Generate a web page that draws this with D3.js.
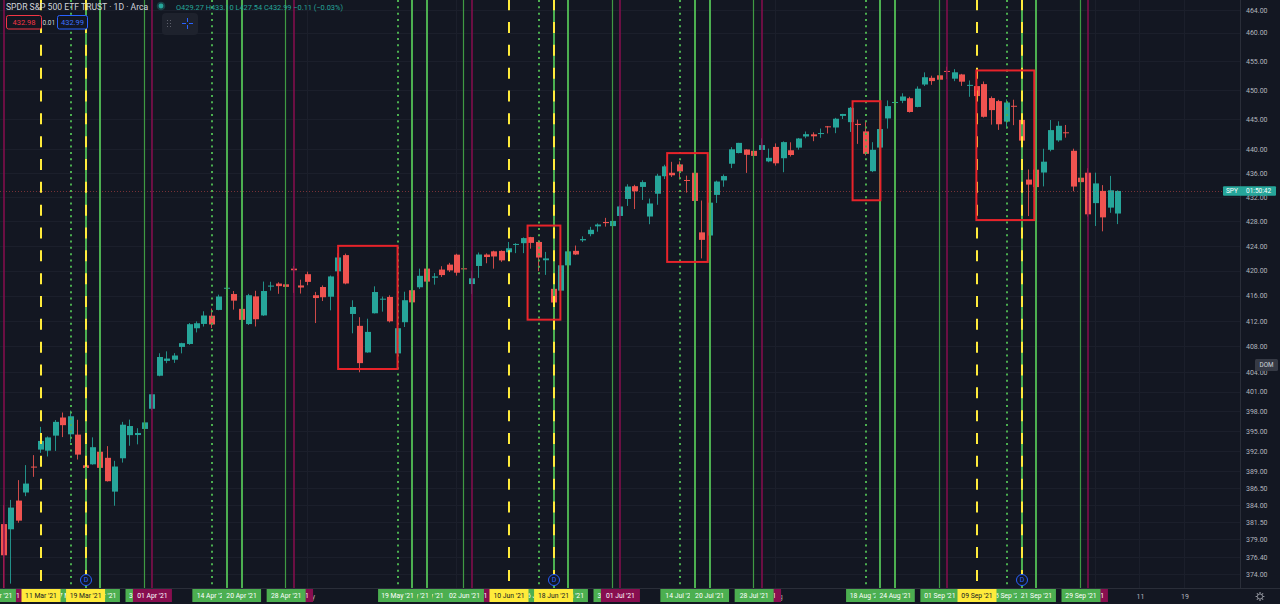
<!DOCTYPE html>
<html><head><meta charset="utf-8">
<script src="https://cdn.jsdelivr.net/npm/d3@7"></script>
<style>
html,body{margin:0;padding:0;background:#131722;overflow:hidden}
svg{display:block}
text{font-family:Roboto,"Open Sans",sans-serif}
</style></head><body>
<svg id="c" width="1280" height="604"></svg>
<script>
// ---------------- DATA ----------------
const dates = ["2021-03-03","2021-03-04","2021-03-05","2021-03-08","2021-03-09","2021-03-10","2021-03-11","2021-03-12","2021-03-15","2021-03-16","2021-03-17","2021-03-18","2021-03-19","2021-03-22","2021-03-23","2021-03-24","2021-03-25","2021-03-26","2021-03-29","2021-03-30","2021-03-31",
"2021-04-01","2021-04-05","2021-04-06","2021-04-07","2021-04-08","2021-04-09","2021-04-12","2021-04-13","2021-04-14","2021-04-15","2021-04-16","2021-04-19","2021-04-20","2021-04-21","2021-04-22","2021-04-23","2021-04-26","2021-04-27","2021-04-28","2021-04-29","2021-04-30",
"2021-05-03","2021-05-04","2021-05-05","2021-05-06","2021-05-07","2021-05-10","2021-05-11","2021-05-12","2021-05-13","2021-05-14","2021-05-17","2021-05-18","2021-05-19","2021-05-20","2021-05-21","2021-05-24","2021-05-25","2021-05-26","2021-05-27","2021-05-28",
"2021-06-01","2021-06-02","2021-06-03","2021-06-04","2021-06-07","2021-06-08","2021-06-09","2021-06-10","2021-06-11","2021-06-14","2021-06-15","2021-06-16","2021-06-17","2021-06-18","2021-06-21","2021-06-22","2021-06-23","2021-06-24","2021-06-25","2021-06-28","2021-06-29","2021-06-30",
"2021-07-01","2021-07-02","2021-07-06","2021-07-07","2021-07-08","2021-07-09","2021-07-12","2021-07-13","2021-07-14","2021-07-15","2021-07-16","2021-07-19","2021-07-20","2021-07-21","2021-07-22","2021-07-23","2021-07-26","2021-07-27","2021-07-28","2021-07-29","2021-07-30",
"2021-08-02","2021-08-03","2021-08-04","2021-08-05","2021-08-06","2021-08-09","2021-08-10","2021-08-11","2021-08-12","2021-08-13","2021-08-16","2021-08-17","2021-08-18","2021-08-19","2021-08-20","2021-08-23","2021-08-24","2021-08-25","2021-08-26","2021-08-27","2021-08-30","2021-08-31",
"2021-09-01","2021-09-02","2021-09-03","2021-09-07","2021-09-08","2021-09-09","2021-09-10","2021-09-13","2021-09-14","2021-09-15","2021-09-16","2021-09-17","2021-09-20","2021-09-21","2021-09-22","2021-09-23","2021-09-24","2021-09-27","2021-09-28","2021-09-29","2021-09-30",
"2021-10-01","2021-10-04","2021-10-05","2021-10-06"];

const open = [385.79,381.22,380.46,384.66,385.85,389.69,392.23,392.07,394.33,397.07,394.53,394.48,389.88,390.03,391.91,391.00,385.98,390.93,394.40,394.42,395.34,
398.40,403.46,405.76,405.94,407.93,408.39,410.85,411.53,412.83,413.74,417.25,416.26,413.91,411.51,415.89,412.87,417.44,417.93,417.81,420.32,417.63,
419.43,416.07,417.38,415.83,419.89,422.50,413.10,411.23,407.07,413.21,415.39,415.80,406.92,411.80,416.87,417.34,420.33,418.87,420.17,420.97,
422.57,420.37,417.85,420.75,422.59,423.11,423.18,422.96,424.20,424.43,425.42,424.63,421.67,417.09,416.80,420.85,423.19,424.89,425.90,427.17,427.88,427.21,
428.87,431.67,433.78,433.66,428.78,432.53,435.43,436.01,437.40,434.81,436.01,426.19,425.68,432.34,434.74,437.52,439.31,439.91,439.68,439.82,437.91,
440.34,438.44,439.78,440.22,442.10,442.46,442.61,443.82,443.62,445.59,444.53,444.24,442.96,436.27,440.23,445.16,447.97,448.17,448.61,447.12,450.97,452.13,
452.56,453.32,451.98,452.71,450.89,450.70,451.04,448.64,448.12,444.62,447.32,444.92,434.88,436.53,436.05,439.85,441.44,442.81,439.69,435.19,436.02,
430.98,433.00,430.24,429.27];

const high = [386.83,384.00,384.76,387.68,389.91,391.40,395.65,394.21,396.69,397.83,398.12,396.72,391.57,394.07,393.46,392.75,390.55,396.41,396.75,395.45,398.00,
400.67,406.94,407.24,406.96,408.58,411.67,411.93,413.53,413.96,416.16,417.91,416.74,415.09,416.29,416.78,418.25,418.22,418.14,419.01,420.72,418.54,
419.84,416.60,417.63,419.21,422.82,422.74,415.27,412.59,412.35,417.49,415.86,416.06,411.05,416.63,418.20,420.32,420.71,419.61,420.72,421.25,
422.72,421.23,419.99,422.92,422.78,423.21,423.26,424.63,424.43,425.37,425.46,424.87,423.02,417.83,421.06,424.00,424.05,425.55,427.09,427.65,428.56,428.78,
430.60,434.10,434.01,434.76,431.73,435.84,437.35,437.84,437.92,435.53,436.06,431.41,432.42,434.70,435.72,440.30,441.03,439.94,440.30,441.80,440.06,
440.93,441.28,441.12,441.85,442.94,442.80,443.44,443.88,445.26,445.94,447.11,444.96,444.63,441.14,443.71,448.23,448.54,449.46,448.86,450.65,453.07,452.49,
453.11,454.05,453.63,452.81,451.67,452.57,451.49,448.92,448.34,448.41,448.36,445.37,436.56,437.91,440.03,444.89,444.67,444.05,440.04,437.04,436.77,
436.03,433.96,435.49,433.10];

const low = [381.31,371.88,372.64,381.42,385.31,388.17,391.74,391.20,392.03,394.11,393.30,390.75,387.15,389.97,388.66,387.47,383.90,390.29,392.81,393.02,395.31,
398.18,403.38,405.40,405.45,406.93,408.26,410.20,411.12,410.87,413.69,415.73,413.79,410.59,411.36,411.13,412.79,416.81,416.30,416.90,416.44,416.34,
417.67,411.67,415.15,413.68,419.16,417.81,410.06,404.00,407.02,413.18,413.47,411.77,405.33,411.05,414.45,417.08,417.62,417.76,418.99,419.79,
419.20,419.29,416.28,418.84,421.19,420.32,421.41,421.55,422.82,422.82,423.54,419.92,419.32,414.70,415.93,420.08,422.51,424.62,425.55,426.30,427.13,427.18,
428.80,430.52,430.01,431.51,427.52,430.71,434.97,435.31,434.91,432.72,430.92,421.97,424.83,431.01,433.69,436.79,439.26,435.99,437.31,439.81,437.77,
437.21,436.10,438.73,439.88,441.80,441.31,441.88,442.62,442.66,445.07,442.87,440.85,438.92,436.12,439.71,443.44,447.42,447.77,446.16,447.06,450.71,450.92,
451.55,451.91,451.55,450.74,448.86,448.72,445.31,444.11,443.22,443.44,444.02,441.02,428.86,433.07,433.75,439.60,441.21,441.90,432.94,433.85,428.78,
427.23,426.36,429.39,427.54];

const close = [381.42,376.70,383.63,381.72,387.17,389.58,393.53,394.06,396.41,395.91,397.26,391.48,389.48,392.59,389.50,387.52,389.70,395.98,395.78,394.73,396.33,
400.61,406.36,406.12,406.59,408.52,411.49,411.64,412.86,411.45,415.87,417.26,415.21,412.17,416.07,412.27,416.74,417.61,417.52,417.40,420.06,417.30,
418.20,415.62,415.75,419.07,422.12,417.94,414.21,405.41,410.28,416.58,415.52,411.94,410.86,415.28,414.94,419.17,418.24,419.07,419.29,420.04,
419.67,420.33,418.77,422.60,422.19,422.28,421.65,423.61,424.31,425.26,424.48,422.11,421.97,414.92,420.86,423.11,422.60,425.10,426.61,427.47,427.70,428.06,
430.43,433.72,432.93,434.46,430.92,435.52,437.08,435.59,436.24,434.75,431.34,424.97,431.06,434.55,435.46,439.94,441.02,439.01,438.83,440.65,438.51,
437.59,441.15,438.98,441.76,442.49,442.13,442.68,443.78,445.11,445.92,446.97,444.04,439.18,439.86,443.36,447.26,447.97,448.91,446.26,450.25,452.23,451.56,
451.80,453.19,453.08,451.46,450.91,448.98,445.44,446.58,444.17,447.88,447.17,441.40,434.04,433.63,437.86,443.18,443.91,442.64,433.72,434.45,429.14,
434.24,428.64,433.10,432.99];

const futureDates = ["2021-10-07","2021-10-08","2021-10-11","2021-10-12","2021-10-13","2021-10-14","2021-10-15","2021-10-18","2021-10-19","2021-10-20","2021-10-21","2021-10-22","2021-10-25","2021-10-26","2021-10-27","2021-10-28"];

const yTicks = [464,460,455,450,445,440,436,432,428,424,420,416,412,408,404,401,398,395,392,389,386.5,384,381.5,379,376.4,374];

// time-axis ticks (plain)
const timeTicks = [
  {date:"2021-04-01", text:"Apr"},{date:"2021-05-03", text:"May"},{date:"2021-06-01", text:"Jun"},
  {date:"2021-07-01", text:"Jul"},{date:"2021-08-02", text:"Aug"},{date:"2021-09-01", text:"Sep"},
  {date:"2021-10-01", text:"Oct"},{date:"2021-10-11", text:"11"},{date:"2021-10-19", text:"19"}];

// indicator vertical lines (array order = drawing order of their axis labels)
const lineEvents = [
  {date:"2021-03-04", kind:"maroon"},{date:"2021-03-03", kind:"thin"},
  {date:"2021-03-31", kind:"thin"},{date:"2021-04-01", kind:"maroon"},
  {date:"2021-03-17", kind:"dotted"},{date:"2021-03-23", kind:"green"},
  {date:"2021-03-11", kind:"yellow"},{date:"2021-03-19", kind:"green"},{date:"2021-03-19", kind:"yellow"},
  {date:"2021-04-16", kind:"green"},{date:"2021-04-14", kind:"dotted"},{date:"2021-04-20", kind:"green"},
  {date:"2021-04-29", kind:"maroon"},{date:"2021-04-28", kind:"thin"},
  {date:"2021-06-03", kind:"maroon"},{date:"2021-05-25", kind:"green"},{date:"2021-05-21", kind:"green"},
  {date:"2021-05-19", kind:"dotted"},{date:"2021-06-02", kind:"thin"},
  {date:"2021-06-16", kind:"dotted"},{date:"2021-06-22", kind:"green"},{date:"2021-06-18", kind:"green"},
  {date:"2021-06-10", kind:"yellow"},{date:"2021-06-18", kind:"yellow"},
  {date:"2021-06-30", kind:"thin"},{date:"2021-07-01", kind:"maroon"},
  {date:"2021-07-16", kind:"green"},{date:"2021-07-14", kind:"dotted"},{date:"2021-07-20", kind:"green"},
  {date:"2021-07-29", kind:"maroon"},{date:"2021-07-28", kind:"thin"},
  {date:"2021-08-20", kind:"green"},{date:"2021-08-18", kind:"dotted"},{date:"2021-08-24", kind:"green"},
  {date:"2021-09-02", kind:"maroon"},{date:"2021-09-01", kind:"thin"},
  {date:"2021-09-17", kind:"green"},{date:"2021-09-17", kind:"yellow"},
  {date:"2021-09-15", kind:"dotted"},{date:"2021-09-21", kind:"green"},{date:"2021-09-09", kind:"yellow"},
  {date:"2021-09-30", kind:"maroon"},{date:"2021-09-29", kind:"thin"}];

// rectangles drawn on the chart (time anchors, optional hour fraction of a bar)
const boxes = [
  {from:"2021-05-07", to:"2021-05-19", top:424.0, bottom:404.5},
  {from:"2021-06-14T12", to:"2021-06-18T22", top:427.3, bottom:412.2},
  {from:"2021-07-12T07", to:"2021-07-19T18", top:439.3, bottom:421.4},
  {from:"2021-08-16T06", to:"2021-08-20", top:448.1, bottom:431.45},
  {from:"2021-09-08T22", to:"2021-09-20T17", top:453.4, bottom:428.2}];

const dividendDates = ["2021-03-19","2021-06-18","2021-09-17"];

const legendTitle = "SPDR S&P 500 ETF TRUST · 1D · Arca";
const lastBar = {o:"429.27", h:"433.10", l:"427.54", c:"432.99", chg:"−0.11 (−0.03%)"};
const bidAsk = {bid:"432.98", spread:"0.01", ask:"432.99"};
const lastPrice = 432.99;
const countdown = "01:50:42";
const symbol = "SPY";

// ---------------- CHART ----------------
const svg = d3.select("#c");
const PR = 1240, PB = 588;
const allDates = dates.concat(futureDates);
const idxOf = new Map(allDates.map((d,i)=>[d,i]));
function barPos(s){ const p=s.split("T"); let i=idxOf.get(p[0]); if(p[1]) i += (+p[1])/24; return i; }
const x = d3.scaleLinear().domain([idxOf.get("2021-03-11"), idxOf.get("2021-09-29")]).range([41,1081]);
const y = d3.scaleLog().domain([374,464]).range([574.1,10]);

svg.append("rect").attr("width",1280).attr("height",604).attr("fill","#131722");
const defs = svg.append("defs");
defs.append("clipPath").attr("id","clip").append("rect").attr("width",PR).attr("height",PB);
const plot = svg.append("g").attr("clip-path","url(#clip)");

// grid
plot.selectAll("line.hg").data(yTicks).join("line").attr("class","hg")
  .attr("x1",0).attr("x2",PR).attr("y1",d=>Math.round(y(d))+0.5).attr("y2",d=>Math.round(y(d))+0.5)
  .attr("stroke","#1b1f2b").attr("stroke-width",1);
plot.selectAll("line.vg").data(timeTicks).join("line").attr("class","vg")
  .attr("x1",d=>Math.round(x(idxOf.get(d.date)))-0.5).attr("x2",d=>Math.round(x(idxOf.get(d.date)))-0.5)
  .attr("y1",0).attr("y2",PB).attr("stroke","#1b1f2b");

// candles
const bars = dates.map((d,i)=>({d, o:open[i], h:high[i], l:low[i], c:close[i]}));
const colOf = b => b.c >= b.o ? "#26a69a" : "#ef5350";
const cxOf = b => Math.round(x(idxOf.get(b.d)));
plot.append("g").selectAll("rect").data(bars).join("rect")
  .attr("x",b=>cxOf(b)-1).attr("width",1)
  .attr("y",b=>y(b.h)).attr("height",b=>Math.max(1,y(b.l)-y(b.h)))
  .attr("fill",colOf).attr("opacity",0.85);
plot.append("g").selectAll("rect").data(bars).join("rect")
  .attr("x",b=>cxOf(b)-3).attr("width",6)
  .attr("y",b=>y(Math.max(b.o,b.c)))
  .attr("height",b=>Math.max(1,y(Math.min(b.o,b.c))-y(Math.max(b.o,b.c))))
  .attr("fill",colOf);

// last price line
plot.append("line").attr("x1",0).attr("x2",PR).attr("y1",Math.round(y(lastPrice))+0.5).attr("y2",Math.round(y(lastPrice))+0.5)
  .attr("stroke","#ef5350").attr("stroke-opacity",0.45).attr("stroke-dasharray","1 2");

// vertical indicator lines
const lineStyle = {
  maroon:{stroke:"#880e4f", w:1.5, dash:null, off:0},
  thin:{stroke:"#3f9a43", w:1.2, dash:null, off:-0.5},
  green:{stroke:"#4caf50", w:2, dash:null, off:0},
  dotted:{stroke:"#4caf50", w:2, dash:"2 4.33", off:0},
  yellow:{stroke:"#ffeb3b", w:2, dash:"11 11.83", off:0}
};
const order = ["maroon","thin","green","dotted","yellow"];
const linesSorted = lineEvents.slice().sort((a,b)=>order.indexOf(a.kind)-order.indexOf(b.kind));
plot.append("g").selectAll("line").data(linesSorted).join("line")
  .attr("x1",d=>Math.round(x(idxOf.get(d.date)))+lineStyle[d.kind].off)
  .attr("x2",d=>Math.round(x(idxOf.get(d.date)))+lineStyle[d.kind].off)
  .attr("y1",0).attr("y2",PB)
  .attr("stroke",d=>lineStyle[d.kind].stroke)
  .attr("stroke-width",d=>lineStyle[d.kind].w)
  .attr("stroke-dasharray",d=>lineStyle[d.kind].dash)
  .attr("stroke-dashoffset",d=>d.kind==="yellow"?0.8:0);

// boxes
plot.append("g").selectAll("rect").data(boxes).join("rect")
  .attr("x",d=>x(barPos(d.from))).attr("width",d=>x(barPos(d.to))-x(barPos(d.from)))
  .attr("y",d=>y(d.top)).attr("height",d=>y(d.bottom)-y(d.top))
  .attr("fill","none").attr("stroke","#e8232a").attr("stroke-width",2);

// dividend markers
const dv = plot.append("g").selectAll("g").data(dividendDates).join("g")
  .attr("transform",d=>`translate(${Math.round(x(idxOf.get(d)))},580)`);
dv.append("circle").attr("r",5.5).attr("fill","#131722").attr("stroke","#2962ff").attr("stroke-width",1);
dv.append("text").attr("text-anchor","middle").attr("dy","0.35em").attr("font-size",7).attr("fill","#2962ff").text("D");

// ---------- right axis ----------
svg.append("rect").attr("x",PR).attr("y",0).attr("width",1280-PR).attr("height",604).attr("fill","#131722");
svg.append("line").attr("x1",PR+0.5).attr("x2",PR+0.5).attr("y1",0).attr("y2",604).attr("stroke","#2a2e39");
const ya = svg.append("g").attr("transform",`translate(${PR},0)`)
  .call(d3.axisRight(y).tickValues(yTicks).tickFormat(d3.format(".2f")).tickSize(0).tickPadding(6));
ya.select(".domain").remove();
ya.selectAll("text").attr("fill","#b2b5be").attr("font-size",7).attr("font-family","Roboto,sans-serif");

// ---------- bottom axis ----------
svg.append("rect").attr("x",0).attr("y",PB).attr("width",1280).attr("height",604-PB).attr("fill","#131722");
svg.append("line").attr("x1",0).attr("x2",1280).attr("y1",PB+0.5).attr("y2",PB+0.5).attr("stroke","#2a2e39");
const LW = 39;
const labCx = lineEvents.map(d=>x(idxOf.get(d.date)));
// visible segments of an interval [a,b] given the labels drawn after index k (k=-1 => all labels)
function visibleSegs(a,b,k){
  let segs=[[Math.max(a,0),b]];
  labCx.forEach((c,j)=>{ if(j<=k) return; const l=c-LW/2, r=c+LW/2;
    segs = segs.flatMap(s=>{ if(r<=s[0]||l>=s[1]) return [s]; const out=[]; if(l>s[0]) out.push([s[0],l]); if(r<s[1]) out.push([r,s[1]]); return out; });
  });
  return segs.filter(s=>s[1]-s[0]>=2);
}
let clipN=0;
function clipFor(segs){
  const id="lc"+(clipN++);
  const cp=defs.append("clipPath").attr("id",id);
  segs.forEach(s=>cp.append("rect").attr("x",s[0]).attr("y",PB).attr("width",s[1]-s[0]).attr("height",604-PB));
  return `url(#${id})`;
}
const xa = svg.append("g");
timeTicks.forEach(d=>{
  const cx=x(idxOf.get(d.date)); const segs=visibleSegs(cx-8,cx+8,-1);
  if(!segs.length) return;
  xa.append("text").attr("x",cx).attr("y",598.5).attr("text-anchor","middle")
    .attr("font-size",7).attr("fill","#b2b5be").attr("clip-path",clipFor(segs)).text(d.text);
});
const labelBg = {maroon:"#880e4f", thin:"#4caf50", green:"#4caf50", dotted:"#4caf50", yellow:"#ffeb3b"};
const labelFg = {maroon:"#ffffff", thin:"#ffffff", green:"#ffffff", dotted:"#ffffff", yellow:"#131722"};
const fmt = d3.timeFormat("%d %b '%y"), parse = d3.timeParse("%Y-%m-%d");
lineEvents.forEach((d,i)=>{
  const cx=labCx[i];
  xa.append("rect").attr("x",cx-LW/2).attr("y",589).attr("width",LW).attr("height",13).attr("fill",labelBg[d.kind]);
  const segs=visibleSegs(cx-LW/2+3,cx+LW/2-3,i);
  if(!segs.length) return;
  xa.append("text").attr("x",cx).attr("y",598.2).attr("text-anchor","middle").attr("font-size",6.8)
    .attr("fill",labelFg[d.kind]).attr("clip-path",clipFor(segs)).text(fmt(parse(d.date)));
});

// last price label
const pl = svg.append("g").attr("transform",`translate(1223,${Math.round(y(lastPrice))})`);
pl.append("rect").attr("x",0).attr("y",-4.7).attr("width",53).attr("height",9.5).attr("rx",1).attr("fill","#26a69a");
pl.append("text").attr("x",3).attr("dy","0.34em").attr("font-size",6.5).attr("fill","#fff").text(symbol);
pl.append("text").attr("x",23).attr("dy","0.34em").attr("font-size",6.5).attr("fill","#fff").text(countdown);

// DOM label
const dm = svg.append("g").attr("transform","translate(1255,359)");
dm.append("rect").attr("width",23).attr("height",12).attr("rx",1.5).attr("fill","#363a45");
dm.append("text").attr("x",11.5).attr("y",8.4).attr("text-anchor","middle").attr("font-size",6.3).attr("fill","#d1d4dc").text("DOM");

// gear
const gear = svg.append("g").attr("transform","translate(1260,596.5)");
gear.append("circle").attr("r",2.6).attr("fill","none").attr("stroke","#9598a1").attr("stroke-width",1);
gear.selectAll("line").data(d3.range(8)).join("line")
  .attr("x1",d=>Math.cos(d*Math.PI/4)*3).attr("y1",d=>Math.sin(d*Math.PI/4)*3)
  .attr("x2",d=>Math.cos(d*Math.PI/4)*4.4).attr("y2",d=>Math.sin(d*Math.PI/4)*4.4)
  .attr("stroke","#9598a1").attr("stroke-width",1.2);

// ---------- legend ----------
const leg = svg.append("g");
leg.append("text").attr("x",6).attr("y",10.3).attr("font-size",8.6).attr("fill","#d1d4dc").text(legendTitle);
leg.append("circle").attr("cx",161).attr("cy",6).attr("r",4.3).attr("fill","#26a69a").attr("fill-opacity",0.3);
leg.append("circle").attr("cx",161).attr("cy",6).attr("r",2.4).attr("fill","#26a69a");
leg.append("text").attr("x",176).attr("y",10.3).attr("font-size",7.4).attr("fill","#26a69a")
  .text(`O${lastBar.o} H${lastBar.h} L${lastBar.l} C${lastBar.c} ${lastBar.chg}`);
leg.append("rect").attr("x",6.5).attr("y",15.5).attr("width",35).attr("height",13.5).attr("rx",2)
  .attr("fill","#131722").attr("stroke","#f23645");
leg.append("text").attr("x",24).attr("y",25).attr("text-anchor","middle").attr("font-size",7.5).attr("fill","#f23645").text(bidAsk.bid);
leg.append("text").attr("x",42.5).attr("y",25).attr("font-size",6.5).attr("fill","#d1d4dc").text(bidAsk.spread);
leg.append("rect").attr("x",57.5).attr("y",15.5).attr("width",30).attr("height",13.5).attr("rx",2)
  .attr("fill","#131722").attr("stroke","#2962ff");
leg.append("text").attr("x",72.5).attr("y",25).attr("text-anchor","middle").attr("font-size",7.5).attr("fill","#3d72ff").text(bidAsk.ask);
// floating toolbar widget
leg.append("rect").attr("x",162).attr("y",13).attr("width",36).attr("height",22).attr("rx",4).attr("fill","#1e222d");
[[167,20],[170,20],[167,23],[170,23],[167,26],[170,26]].forEach(p=>
  leg.append("rect").attr("x",p[0]).attr("y",p[1]).attr("width",1).attr("height",1).attr("fill","#5d606b"));
leg.append("path").attr("d","M182,23.5H186M189,23.5H193M187.5,18V22M187.5,25V29")
  .attr("stroke","#2962ff").attr("stroke-width",1).attr("fill","none");
</script></body></html>
